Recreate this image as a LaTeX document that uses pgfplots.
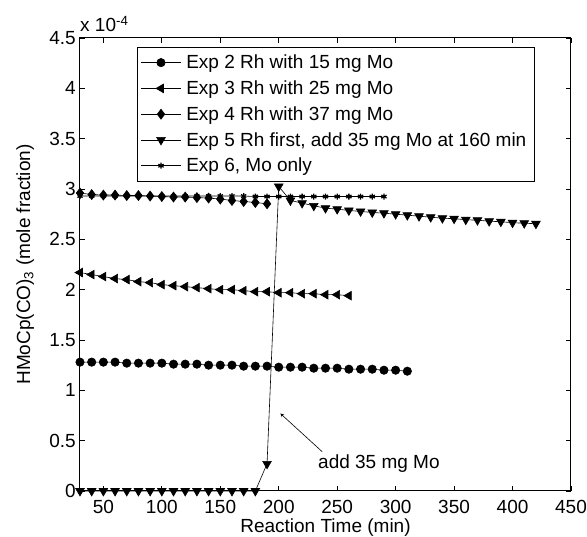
\documentclass[border=0pt]{standalone}
\usepackage{pgfplots}
\pgfplotsset{compat=1.18}
\usepackage{fontspec}
\setmainfont{Liberation Sans}
\begin{document}
\begin{tikzpicture}
\begin{axis}[
  scale only axis, width=491pt, height=453pt,
  xmin=30, xmax=450, ymin=0, ymax=4.5,
  xtick={50,100,...,450}, ytick={0,0.5,...,4.5},
  font=\fontsize{19}{22}\selectfont,
  /pgf/number format/assume math mode=true,
  tick align=inside, major tick length=5pt,
  axis line style={line width=1pt}, every tick/.style={black, line width=0.8pt},
  xticklabel style={anchor=base, yshift=-23pt, inner sep=0pt},
  yticklabel style={anchor=east, xshift=-4pt, inner sep=0pt},
  xlabel={Reaction Time (min)},
  xlabel style={at={(axis description cs:0.5,0)}, anchor=base, yshift=-42pt, inner sep=0pt},
  ylabel={HMoCp(CO)\textsubscript{3} (mole fraction)},
  ylabel style={at={(axis description cs:-0.13,0.5)}, anchor=north, inner sep=0pt},
  legend cell align=left,
  legend style={at={(0.1167,0.981)}, anchor=north west, draw=black, line width=0.8pt,
     font=\fontsize{19}{22}\selectfont, row sep=4.5pt, inner xsep=3pt, inner ysep=5pt,
     nodes={inner xsep=5pt, inner ysep=3pt}},
  legend image code/.code={\draw[mark repeat=2,mark phase=2,#1] plot coordinates {(0pt,0pt) (20pt,0pt) (40pt,0pt)};},
  clip=false,
]
% Exp 2
\addplot[black, line width=0.6pt, mark=*, mark size=4.2pt, mark options={fill=black}] coordinates {
(30,1.28)(40,1.28)(50,1.28)(60,1.28)(70,1.27)(80,1.27)(90,1.27)(100,1.27)(110,1.26)(120,1.26)
(130,1.26)(140,1.25)(150,1.25)(160,1.25)(170,1.24)(180,1.24)(190,1.24)(200,1.23)(210,1.23)(220,1.23)
(230,1.22)(240,1.22)(250,1.22)(260,1.21)(270,1.21)(280,1.21)(290,1.20)(300,1.20)(310,1.19)};
\addlegendentry{Exp 2 Rh with 15 mg Mo}
% Exp 3
\addplot[black, line width=0.6pt, mark=triangle*, mark size=5pt, mark options={fill=black, rotate=90}] coordinates {
(30,2.17)(40,2.15)(50,2.13)(60,2.11)(70,2.10)(80,2.08)(90,2.07)(100,2.05)(110,2.04)(120,2.03)
(130,2.02)(140,2.01)(150,2.00)(160,2.00)(170,1.99)(180,1.98)(190,1.98)(200,1.97)(210,1.97)(220,1.96)
(230,1.96)(240,1.95)(250,1.95)(260,1.94)};
\addlegendentry{Exp 3 Rh with 25 mg Mo}
% Exp 4
\addplot[black, line width=0.6pt, mark=diamond*, mark size=5pt, mark options={fill=black}] coordinates {
(30,2.96)(40,2.945)(50,2.94)(60,2.94)(70,2.935)(80,2.935)(90,2.93)(100,2.925)(110,2.92)(120,2.92)
(130,2.915)(140,2.91)(150,2.90)(160,2.886)(170,2.876)(180,2.866)(190,2.853)};
\addlegendentry{Exp 4 Rh with 37 mg Mo}
% Exp 5
\addplot[black, line width=0.6pt, mark=triangle*, mark size=5pt, mark options={fill=black, rotate=180}] coordinates {
(30,0)(40,0)(50,0)(60,0)(70,0)(80,0)(90,0)(100,0)(110,0)(120,0)(130,0)(140,0)(150,0)(160,0)(170,0)(180,0)
(190,0.27)(200,3.025)(210,2.886)(220,2.86)(230,2.833)(240,2.81)(250,2.80)(260,2.787)(270,2.777)(280,2.767)
(290,2.76)(300,2.75)(310,2.74)(320,2.73)(330,2.72)(340,2.71)(350,2.705)(360,2.695)(370,2.69)(380,2.68)
(390,2.675)(400,2.665)(410,2.66)(420,2.655)};
\addlegendentry{Exp 5 Rh first, add 35 mg Mo at 160 min}
% Exp 6
\addplot[black, line width=0.6pt, mark=asterisk, mark size=3pt, mark options={line width=1.3pt}] coordinates {
(30,2.93)(40,2.93)(50,2.93)(60,2.93)(70,2.93)(80,2.93)(90,2.93)(100,2.93)(110,2.93)(120,2.93)
(130,2.93)(140,2.93)(150,2.93)(160,2.93)(170,2.93)(180,2.925)(190,2.925)(200,2.925)(210,2.925)(220,2.925)
(230,2.925)(240,2.925)(250,2.925)(260,2.925)(270,2.925)(280,2.925)(290,2.925)};
\addlegendentry{Exp 6, Mo only}
\draw[-stealth, line width=0.6pt] (axis cs:237.2,0.39) -- (axis cs:201.4,0.77);
\node[font=\fontsize{19}{22}\selectfont] at (axis cs:285.7,0.275) {add 35 mg Mo};
\node[anchor=base west, inner sep=0pt, font=\fontsize{19}{22}\selectfont] at ([yshift=6pt]rel axis cs:0,1) {x 10\textsuperscript{-4}};
\end{axis}
\path ([xshift=-80pt,yshift=-46pt]current axis.south west) rectangle ([xshift=507pt,yshift=491pt]current axis.south west);
\end{tikzpicture}
\end{document}
